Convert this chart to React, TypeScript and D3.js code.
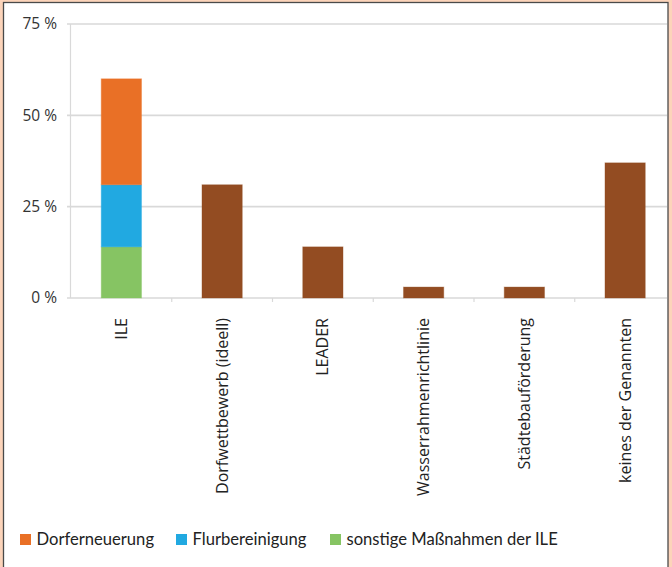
import React from "react";
import * as d3 from "d3";

const categories = [
  "ILE",
  "Dorfwettbewerb (ideell)",
  "LEADER",
  "Wasserrahmenrichtlinie",
  "Städtebauförderung",
  "keines der Genannten",
];

// Stacked components of the ILE column
const ileSeries = ["sonstige Maßnahmen der ILE", "Flurbereinigung", "Dorferneuerung"];
const ileValues = [14, 17, 29];

// Single-value columns (all categories except ILE)
const singleValues = [null, 31, 14, 3, 3, 37];

const yTicks = [0, 25, 50, 75];

const legendItems = ["Dorferneuerung", "Flurbereinigung", "sonstige Maßnahmen der ILE"];
const legendColors: Record<string, string> = {
  Dorferneuerung: "#e97026",
  Flurbereinigung: "#21a9e1",
  "sonstige Maßnahmen der ILE": "#86c463",
};
const singleColor = "#934c22";

const W = 672;
const H = 567;
const AXIS_FONT = "'Open Sans', sans-serif";
const LEGEND_FONT = "Lato, sans-serif";

export default function App() {
  const x = d3.scaleBand<string>().domain(categories).range([71, 675.5]).padding(0);
  const y = d3.scaleLinear().domain([0, 75]).range([298, 24]);
  const barW = x.bandwidth() * 0.4;

  const stack = d3.stack<any>().keys(ileSeries)([
    Object.fromEntries(ileSeries.map((k, i) => [k, ileValues[i]])),
  ]);

  const legendX = [20, 176, 330];

  return (
    <svg
      width={W}
      height={H}
      style={{ position: "absolute", left: 0, top: 0, display: "block" }}
    >
      <defs>
        <clipPath id="panel">
          <rect x={4} y={3} width={663} height={H} />
        </clipPath>
      </defs>
      <rect x={0} y={0} width={W} height={H} fill="#fcd4ba" />
      <rect x={3.5} y={2.5} width={664.5} height={H} fill="#fff" stroke="#4a4a4a" strokeWidth={1.3} />

      <g clipPath="url(#panel)">
        {/* horizontal grid */}
        {yTicks.map((t) => (
          <line key={t} x1={67} x2={676} y1={y(t)} y2={y(t)} stroke="#d9d9d9" strokeWidth={1.6} />
        ))}
        {/* value axis */}
        <line x1={70.5} x2={70.5} y1={y(75)} y2={y(0)} stroke="#d9d9d9" strokeWidth={1.2} />
        {/* category ticks */}
        {categories.slice(1).map((c) => (
          <line
            key={c}
            x1={x(c)!}
            x2={x(c)!}
            y1={y(0)}
            y2={y(0) + 4}
            stroke="#d9d9d9"
            strokeWidth={1.2}
          />
        ))}

        {/* ILE stacked column */}
        {stack.map((s) => {
          const d = s[0];
          const cx = x("ILE")! + x.bandwidth() / 2;
          return (
            <rect
              key={s.key}
              x={cx - barW / 2}
              y={y(d[1])}
              width={barW}
              height={y(d[0]) - y(d[1])}
              fill={legendColors[s.key]}
              stroke={legendColors[s.key]}
              strokeOpacity={0.35}
              strokeWidth={1}
            />
          );
        })}

        {/* single-value columns */}
        {categories.map((c, i) => {
          const v = singleValues[i];
          if (v == null) return null;
          const cx = x(c)! + x.bandwidth() / 2;
          return (
            <rect
              key={c}
              x={cx - barW / 2}
              y={y(v)}
              width={barW}
              height={y(0) - y(v)}
              fill={singleColor}
              stroke={singleColor}
              strokeOpacity={0.35}
              strokeWidth={1}
            />
          );
        })}
      </g>

      {/* y tick labels */}
      {yTicks.map((t) => (
        <text
          key={t}
          x={57}
          y={y(t)}
          dy="0.35em"
          textAnchor="end"
          fontFamily={AXIS_FONT}
          fontSize={15.5}
          fill="#333"
        >
          {`${t} %`}
        </text>
      ))}

      {/* category labels */}
      {categories.map((c) => {
        const cx = x(c)! + x.bandwidth() / 2;
        return (
          <text
            key={c}
            transform={`translate(${cx},318) rotate(-90)`}
            dy="0.35em"
            textAnchor="end"
            fontFamily={AXIS_FONT}
            fontSize={16}
            fill="#222"
          >
            {c}
          </text>
        );
      })}

      {/* legend */}
      {legendItems.map((k, i) => (
        <g key={k} transform={`translate(${legendX[i]},534)`}>
          <rect width={11} height={11} fill={legendColors[k]} />
          <text x={16.5} y={5.5} dy="0.36em" fontFamily={LEGEND_FONT} fontSize={16.6} fill="#222">
            {k}
          </text>
        </g>
      ))}
    </svg>
  );
}
